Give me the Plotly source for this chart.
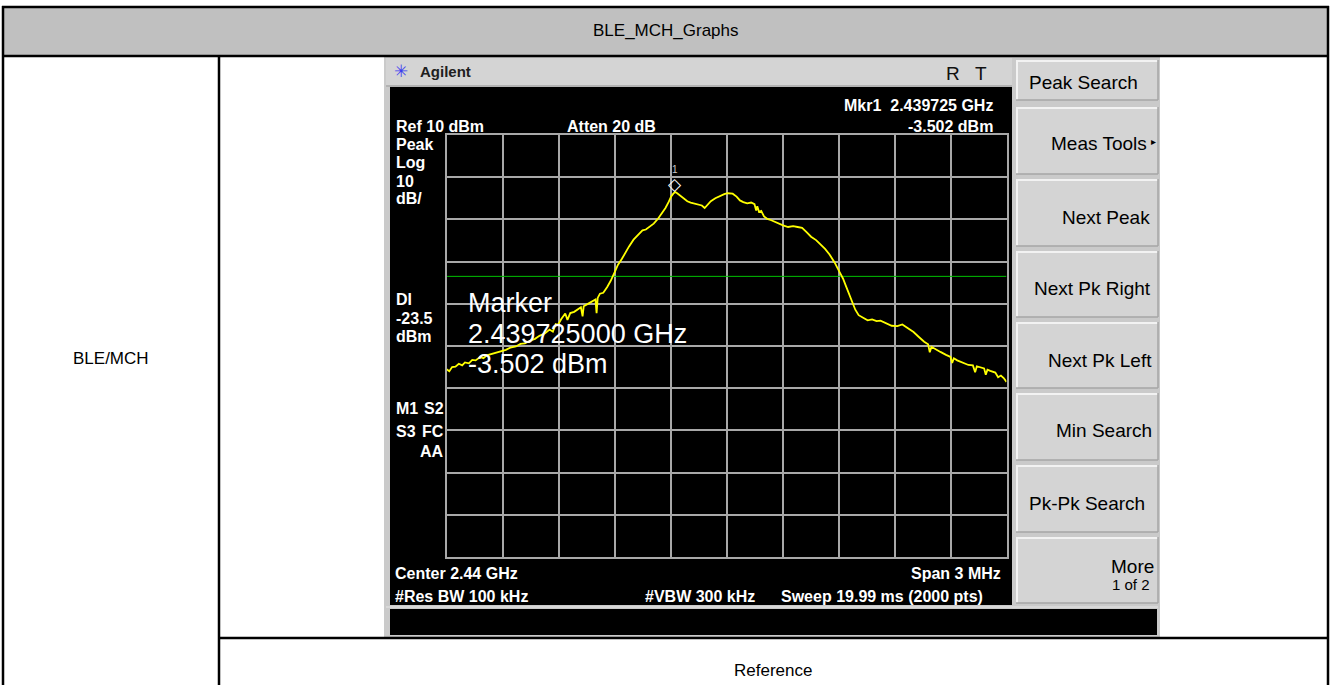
import plotly.graph_objects as go

# ---------------- data ----------------
freq_mhz = [2438.500, 2438.515, 2438.530, 2438.548, 2438.566, 2438.584, 2438.599, 2438.620,
            2438.638, 2438.656, 2438.680, 2438.698, 2438.716, 2438.740, 2438.764, 2438.797,
            2438.818, 2438.842, 2438.872, 2438.896, 2438.920, 2438.950, 2438.974, 2438.998,
            2439.028, 2439.052, 2439.070, 2439.085, 2439.097, 2439.115, 2439.136, 2439.148,
            2439.163, 2439.184, 2439.205, 2439.220, 2439.229, 2439.235, 2439.262, 2439.280,
            2439.298, 2439.304, 2439.310, 2439.322, 2439.340, 2439.361, 2439.379, 2439.400,
            2439.418, 2439.439, 2439.460, 2439.478, 2439.502, 2439.526, 2439.550, 2439.568,
            2439.586, 2439.610, 2439.634, 2439.655, 2439.673, 2439.691, 2439.703, 2439.715,
            2439.725, 2439.736, 2439.751, 2439.769, 2439.790, 2439.808, 2439.829, 2439.850,
            2439.868, 2439.883, 2439.898, 2439.916, 2439.940, 2439.967, 2439.988, 2440.006,
            2440.033, 2440.054, 2440.072, 2440.090, 2440.111, 2440.132, 2440.150, 2440.159,
            2440.165, 2440.174, 2440.186, 2440.201, 2440.219, 2440.240, 2440.264, 2440.285,
            2440.303, 2440.330, 2440.357, 2440.381, 2440.405, 2440.429, 2440.453, 2440.480,
            2440.504, 2440.528, 2440.552, 2440.579, 2440.606, 2440.624, 2440.639, 2440.654,
            2440.669, 2440.690, 2440.708, 2440.732, 2440.756, 2440.780, 2440.804, 2440.825,
            2440.855, 2440.885, 2440.915, 2440.942, 2440.972, 2441.002, 2441.029, 2441.059,
            2441.080, 2441.089, 2441.098, 2441.119, 2441.146, 2441.176, 2441.200, 2441.209,
            2441.218, 2441.236, 2441.266, 2441.296, 2441.320, 2441.332, 2441.341, 2441.353,
            2441.380, 2441.389, 2441.398, 2441.413, 2441.440, 2441.455, 2441.470, 2441.485,
            2441.500]
level_dbm = [-45.5, -46.0, -45.0, -44.9, -44.2, -44.6, -43.9, -44.1,
             -43.3, -43.4, -42.6, -42.9, -42.2, -41.9, -41.6, -41.1,
             -40.9, -40.4, -40.1, -39.5, -39.4, -38.7, -38.3, -37.6,
             -37.0, -36.1, -36.6, -34.8, -35.0, -33.6, -32.3, -33.8,
             -32.2, -31.9, -31.2, -30.8, -33.0, -30.6, -29.9, -29.4,
             -29.0, -32.2, -28.6, -27.6, -27.4, -26.0, -24.6, -22.6,
             -20.8, -19.4, -17.7, -16.4, -14.8, -13.6, -12.6, -12.4,
             -11.7, -11.0, -9.8, -8.5, -7.3, -5.8, -4.6, -3.9,
             -3.502, -3.8, -4.3, -5.0, -5.7, -6.0, -6.2, -6.4,
             -6.7, -7.3, -6.6, -5.7, -5.0, -4.4, -4.0, -3.8,
             -3.9, -4.6, -5.5, -5.9, -6.2, -6.0, -6.4, -7.9,
             -6.9, -8.2, -8.0, -9.3, -9.9, -10.2, -10.7, -11.1,
             -11.4, -11.8, -11.6, -11.8, -12.0, -13.0, -14.1, -14.9,
             -15.9, -17.0, -18.3, -20.2, -22.5, -24.0, -25.7, -27.5,
             -29.2, -31.4, -32.7, -33.4, -33.9, -33.7, -34.1, -34.0,
             -34.6, -35.2, -35.3, -34.9, -35.8, -36.7, -37.8, -39.0,
             -39.6, -41.5, -40.2, -40.8, -41.4, -42.1, -42.6, -44.0,
             -42.9, -43.4, -43.9, -44.5, -44.6, -46.2, -44.8, -45.0,
             -45.3, -46.8, -45.6, -45.9, -46.3, -47.4, -47.0, -47.6,
             -48.5]

center_mhz = 2440.0
span_mhz = 3.0
ref_level = 10
db_per_div = 10
display_line = -23.5
marker_freq = 2439.725
marker_level = -3.502

softkeys = ["Peak Search", "Meas Tools", "Next Peak", "Next Pk Right",
            "Next Pk Left", "Min Search", "Pk-Pk Search", "More"]

# ---------------- page geometry helpers ----------------
W, H = 1333, 685
FONT = "Liberation Sans, Arial, sans-serif"
shapes = []
annotations = []


def px(x):
    return x / W


def py(y):
    return 1 - y / H


def rect(x0, y0, x1, y1, fill, line=None, lw=0):
    shapes.append(dict(type="rect", xref="paper", yref="paper", layer="below",
                       x0=px(x0), x1=px(x1), y0=py(y1), y1=py(y0),
                       fillcolor=fill, line=dict(color=line or fill, width=lw)))


def hline(x0, x1, y, color, w):
    shapes.append(dict(type="line", xref="paper", yref="paper", layer="below",
                       x0=px(x0), x1=px(x1), y0=py(y), y1=py(y),
                       line=dict(color=color, width=w)))


def vline(x, y0, y1, color, w):
    shapes.append(dict(type="line", xref="paper", yref="paper", layer="below",
                       x0=px(x), x1=px(x), y0=py(y0), y1=py(y1),
                       line=dict(color=color, width=w)))


def label(x, y, text, size=16, color="white", bold=True, anchor="left"):
    annotations.append(dict(x=px(x), y=py(y), xref="paper", yref="paper",
                            text=f"<b>{text}</b>" if bold else text,
                            showarrow=False, xanchor=anchor, yanchor="middle",
                            borderpad=0,
                            font=dict(size=size, color=color, family=FONT)))


# ---------------- table ----------------
rect(3, 7, 1328, 56, "#C0C0C0")
# analyzer body
rect(384, 57, 1160, 637, "#CACACA")
rect(386, 58, 1012, 85, "#D4D4D4")           # title bar
hline(386, 1012, 86, "#9A9A9A", 1)
rect(390, 87, 1012, 605, "#000000")          # screen
rect(390, 609, 1157, 635, "#000000")         # status bar
hline(386, 1158, 607, "#E6E6E6", 1)

# soft keys
key_rows = [(60, 100), (107, 174), (179, 246), (251, 317),
            (322, 388), (393, 460), (465, 532), (537, 603)]
for (y0, y1) in key_rows:
    rect(1016, y0, 1158, y1, "#D4D4D4")
    hline(1016, 1158, y0 + 1, "#F2F2F2", 2)
    vline(1017, y0, y1, "#F2F2F2", 2)
    hline(1016, 1158, y1, "#A6A6A6", 1.5)
    vline(1158, y0, y1, "#A6A6A6", 1.5)

# table borders
BK = "#000000"
hline(2, 1329, 7, BK, 2.5)
hline(2, 1329, 56, BK, 2.5)
vline(3, 6, 685, BK, 2.5)
vline(1328, 6, 685, BK, 2.5)
vline(219, 56, 685, BK, 2.5)
hline(219, 1329, 638, BK, 2.5)

label(666, 31, "BLE_MCH_Graphs", 17, "#000000", False, "center")
label(111, 358, "BLE/MCH", 17, "#000000", False, "center")
label(773, 670, "Reference", 17, "#000000", False, "center")

# title bar
label(393, 72, "✳", 17, "#3C3CF0", False)
label(419, 72, "Agilent", 15, "#202020", True)
label(953, 73, "R", 19, "#101010", False, "center")
label(981, 73, "T", 19, "#101010", False, "center")

# screen annotations
label(994, 105, f"Mkr1  {marker_freq/1000:.6f} GHz", 16, "white", True, "right")
label(395, 126, f"Ref {ref_level} dBm", 16)
label(566, 126, "Atten 20 dB", 16)
label(994, 126, f"{marker_level:.3f} dBm", 16, "white", True, "right")
for yy, t in zip([145, 163, 181, 199], ["Peak", "Log", f"{db_per_div}", "dB/"]):
    label(395, yy, t, 16)
for yy, t in zip([299, 318, 336], ["Dl", f"{display_line}", "dBm"]):
    label(395, yy, t, 16)
label(395, 408, "M1", 16)
label(445, 408, "S2", 16, anchor="right")
label(395, 431, "S3", 16)
label(445, 431, "FC", 16, anchor="right")
label(445, 452, "AA", 16, anchor="right")

label(394, 573, f"Center {center_mhz/1000:.2f} GHz", 16)
label(1002, 573, f"Span {span_mhz:g} MHz", 16, "white", True, "right")
label(394, 596, "#Res BW 100 kHz", 16)
label(644, 596, "#VBW 300 kHz", 16)
label(780, 596, "Sweep 19.99 ms (2000 pts)", 16)

# marker readout
label(467, 303, "Marker", 27, "white", False)
label(467, 334, f"{marker_freq/1000:.9f} GHz", 27, "white", False)
label(467, 364, f"{marker_level:.3f} dBm", 27, "white", False)

# soft key labels
key_text = [(1028, 83, softkeys[0], "left"), (1148, 143, softkeys[1], "right"),
            (1151, 217, softkeys[2], "right"), (1033, 288, softkeys[3], "left"),
            (1153, 360, softkeys[4], "right"), (1153, 430, softkeys[5], "right"),
            (1028, 503, softkeys[6], "left"), (1155, 566, softkeys[7], "right")]
for (xx, yy, t, a) in key_text:
    label(xx, yy, t, 19, "#000000", False, a)
label(1157, 141, "▸", 10, "#000000", False, "right")
label(1151, 584, "1 of 2", 15, "#000000", False, "right")

# ---------------- traces ----------------
x_lo = center_mhz - span_mhz / 2
x_hi = center_mhz + span_mhz / 2
y_hi = ref_level
y_lo = ref_level - 10 * db_per_div

fig = go.Figure()
fig.add_trace(go.Scatter(x=[x_lo, x_hi], y=[display_line, display_line], mode="lines",
                         line=dict(color="#00C000", width=1), hoverinfo="skip"))
fig.add_trace(go.Scatter(x=freq_mhz, y=level_dbm, mode="lines",
                         line=dict(color="#FFFF00", width=1.8)))

annotations.append(dict(x=marker_freq, y=marker_level, xref="x", yref="y", text="◇",
                        showarrow=False, yshift=8, font=dict(size=17, color="white",
                                                             family="DejaVu Sans")))
annotations.append(dict(x=marker_freq, y=marker_level, xref="x", yref="y", text="1",
                        showarrow=False, yshift=22, font=dict(size=10, color="#C8C8C8",
                                                              family=FONT)))

grid_col = "#A8A8A8"
fig.update_layout(
    width=W, height=H, margin=dict(l=0, r=0, t=0, b=0),
    paper_bgcolor="white", plot_bgcolor="rgba(0,0,0,0)",
    showlegend=False, shapes=shapes, annotations=annotations,
    xaxis=dict(domain=[px(446.5), px(1006.5)], range=[x_lo, x_hi], dtick=span_mhz / 10,
               tick0=x_lo, showgrid=True, gridcolor=grid_col, gridwidth=1.5,
               showline=True, linecolor=grid_col, linewidth=2, mirror=True,
               showticklabels=False, ticks="", zeroline=False, fixedrange=True),
    yaxis=dict(domain=[py(557), py(135)], range=[y_lo, y_hi], dtick=db_per_div,
               tick0=y_lo, showgrid=True, gridcolor=grid_col, gridwidth=1.5,
               showline=True, linecolor=grid_col, linewidth=2, mirror=True,
               showticklabels=False, ticks="", zeroline=False, fixedrange=True),
)

fig.write_html("out.html", config={"displayModeBar": False},
               post_script="document.body.style.margin='0px';"
                           "document.body.style.overflow='hidden';")
